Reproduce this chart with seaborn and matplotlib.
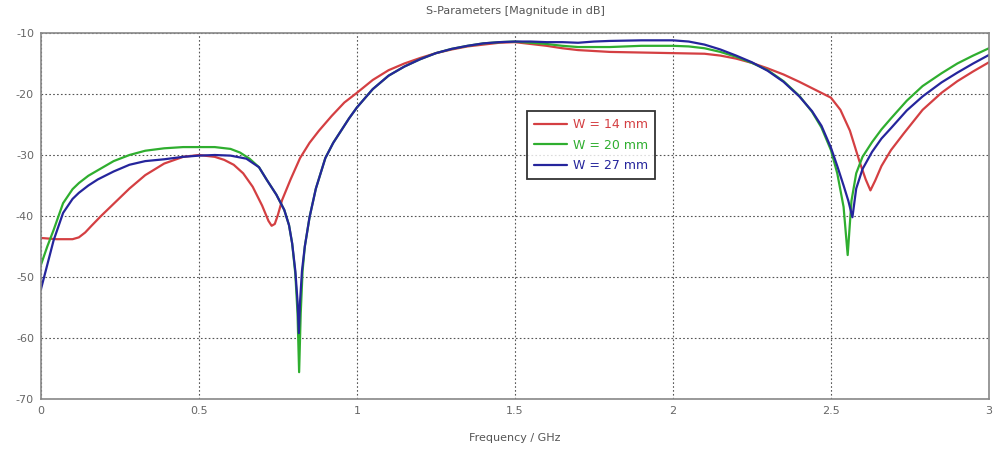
import pandas as pd
import seaborn as sns
import matplotlib.pyplot as plt

# W = 14 mm
freq_14 = [0.0, 0.05, 0.10, 0.12, 0.14, 0.16, 0.19, 0.24, 0.28, 0.33, 0.39, 0.45, 0.50, 0.55,
           0.58, 0.61, 0.64, 0.67, 0.70, 0.72, 0.73, 0.74, 0.75, 0.763, 0.79, 0.82, 0.85, 0.88,
           0.92, 0.96, 1.00, 1.05, 1.10, 1.15, 1.20, 1.25, 1.30, 1.35, 1.40, 1.45, 1.50, 1.55,
           1.60, 1.65, 1.70, 1.80, 1.90, 2.00, 2.10, 2.15, 2.20, 2.25, 2.30, 2.35, 2.40, 2.45,
           2.50, 2.53, 2.56, 2.59, 2.61, 2.625, 2.64, 2.66, 2.69, 2.73, 2.79, 2.85, 2.90, 2.95, 3.00]
s11_14 = [-43.6, -43.8, -43.8, -43.5, -42.7, -41.6, -40.0, -37.5, -35.5, -33.3, -31.4, -30.3, -30.0, -30.3,
          -30.8, -31.6, -33.0, -35.2, -38.3, -40.8, -41.6, -41.3, -39.8, -37.4, -34.0, -30.5, -28.0, -26.0,
          -23.6, -21.4, -19.8, -17.7, -16.1, -15.0, -14.1, -13.3, -12.7, -12.2, -11.9, -11.6, -11.5, -11.8,
          -12.1, -12.5, -12.8, -13.1, -13.2, -13.3, -13.4, -13.7, -14.2, -14.9, -15.8, -16.8, -18.0, -19.3,
          -20.6, -22.6, -26.0, -31.0, -34.0, -35.8, -34.2, -31.8, -29.2, -26.5, -22.6, -19.8, -17.9, -16.3, -14.8]

# W = 20 mm
freq_20 = [0.0, 0.02, 0.04, 0.07, 0.10, 0.12, 0.15, 0.18, 0.23, 0.28, 0.33, 0.39, 0.45, 0.50,
           0.55, 0.60, 0.63, 0.66, 0.69, 0.715, 0.745, 0.77, 0.785, 0.795, 0.805, 0.812, 0.817,
           0.822, 0.828, 0.835, 0.85, 0.87, 0.90, 0.925, 0.95, 0.975, 1.00, 1.05, 1.10, 1.15,
           1.20, 1.25, 1.30, 1.35, 1.40, 1.45, 1.50, 1.55, 1.60, 1.65, 1.70, 1.80, 1.90, 2.00,
           2.05, 2.10, 2.15, 2.20, 2.25, 2.30, 2.35, 2.40, 2.44, 2.47, 2.50, 2.52, 2.54, 2.553,
           2.565, 2.58, 2.60, 2.63, 2.66, 2.69, 2.74, 2.79, 2.85, 2.90, 2.95, 3.00]
s11_20 = [-48.0, -45.0, -42.3, -37.9, -35.6, -34.6, -33.4, -32.5, -31.0, -30.0, -29.3, -28.9, -28.7, -28.7,
          -28.7, -29.0, -29.6, -30.6, -32.0, -34.1, -36.5, -39.0, -41.5, -44.5, -49.5, -56.0, -65.6,
          -56.0, -49.0, -45.0, -40.2, -35.5, -30.5, -28.0, -26.0, -24.0, -22.2, -19.2, -17.0, -15.5,
          -14.3, -13.3, -12.6, -12.1, -11.7, -11.5, -11.4, -11.6, -11.8, -12.1, -12.3, -12.3, -12.1, -12.1,
          -12.2, -12.5, -13.1, -13.9, -14.9, -16.1, -17.9, -20.3, -22.9, -25.5, -29.2, -33.0, -38.5, -46.4,
          -37.5, -33.0, -30.3, -27.9, -25.8, -24.0, -21.1, -18.7, -16.6, -15.0, -13.7, -12.5]

# W = 27 mm
freq_27 = [0.0, 0.02, 0.04, 0.07, 0.10, 0.12, 0.15, 0.18, 0.23, 0.28, 0.33, 0.39, 0.45, 0.50,
           0.55, 0.60, 0.65, 0.69, 0.715, 0.745, 0.77, 0.785, 0.795, 0.805, 0.812, 0.816, 0.82,
           0.826, 0.835, 0.85, 0.87, 0.90, 0.925, 0.95, 0.975, 1.00, 1.05, 1.10, 1.15, 1.20,
           1.25, 1.30, 1.35, 1.40, 1.45, 1.50, 1.55, 1.60, 1.65, 1.70, 1.75, 1.80, 1.90, 2.00,
           2.05, 2.10, 2.15, 2.20, 2.25, 2.30, 2.35, 2.40, 2.44, 2.47, 2.50, 2.52, 2.54, 2.555,
           2.568, 2.58, 2.60, 2.63, 2.66, 2.69, 2.74, 2.79, 2.85, 2.90, 2.95, 3.00]
s11_27 = [-52.0, -48.0, -44.0, -39.5, -37.2, -36.2, -35.0, -34.0, -32.7, -31.6, -31.0, -30.7, -30.3, -30.1,
          -30.0, -30.1, -30.6, -32.0, -34.1, -36.5, -39.0, -41.5, -44.5, -49.0, -54.0, -59.2, -54.0,
          -49.0, -45.0, -40.2, -35.5, -30.5, -28.0, -26.0, -24.0, -22.2, -19.2, -17.0, -15.5, -14.3,
          -13.3, -12.6, -12.1, -11.7, -11.5, -11.4, -11.4, -11.5, -11.5, -11.6, -11.4, -11.3, -11.2, -11.2,
          -11.4, -11.9, -12.7, -13.7, -14.8, -16.2, -18.0, -20.4, -22.8, -25.2, -28.8, -31.8, -35.0, -37.5,
          -40.2, -35.5, -32.3, -29.5, -27.3, -25.6, -22.7, -20.4, -18.1, -16.5, -15.0, -13.6]

labels = ['W = 14 mm', 'W = 20 mm', 'W = 27 mm']
colors = ['#d43f42', '#2fae2f', '#25259c']

frames = []
for lab, f, s in zip(labels, [freq_14, freq_20, freq_27], [s11_14, s11_20, s11_27]):
    frames.append(pd.DataFrame({'freq': f, 'db': s, 'curve': lab}))
df = pd.concat(frames, ignore_index=True)

sns.set_style('white')
plt.rcParams['font.family'] = ['DejaVu Sans']
plt.rcParams['axes.unicode_minus'] = False

fig = plt.figure(figsize=(9.94, 4.54), dpi=100)
ax = fig.add_axes([0.0412, 0.1211, 0.9537, 0.8062])

sns.lineplot(data=df, x='freq', y='db', hue='curve', palette=colors, estimator=None,
             sort=False, linewidth=1.6, ax=ax)

ax.set_xlim(0, 3)
ax.set_ylim(-70, -10)
ax.set_xticks([0, 0.5, 1, 1.5, 2, 2.5, 3])
ax.set_xticklabels(['0', '0.5', '1', '1.5', '2', '2.5', '3'])
ax.set_yticks([-70, -60, -50, -40, -30, -20, -10])
ax.grid(True, color='#555555', linestyle=(0, (1.5, 2)), linewidth=0.8)
ax.tick_params(axis='both', labelsize=8, colors='#666666', length=3, direction='inout')
for sp in ax.spines.values():
    sp.set_color('#888888')
    sp.set_linewidth(1.2)

ax.set_title('S-Parameters [Magnitude in dB]', fontsize=8, color='#555555', pad=14)
ax.set_xlabel('Frequency / GHz', fontsize=8, color='#555555', labelpad=12)
ax.set_ylabel('')

leg = ax.legend(loc='upper left', bbox_to_anchor=(0.513, 0.786), fontsize=9, frameon=True,
                fancybox=False, borderpad=0.55, handlelength=2.6, handletextpad=0.5,
                labelspacing=0.6, borderaxespad=0)
leg.get_frame().set_edgecolor('black')
leg.get_frame().set_linewidth(1.3)
for txt, c in zip(leg.get_texts(), colors):
    txt.set_color(c)

fig.savefig('out.png', dpi=100)
